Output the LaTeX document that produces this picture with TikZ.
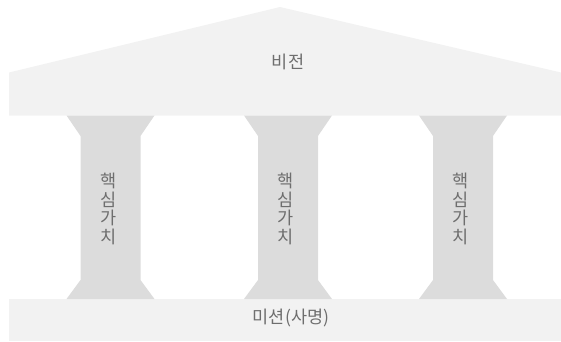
\documentclass[tikz,border=0pt]{standalone}
\usepackage{fontspec}
\setmainfont{Noto Sans CJK KR}
\definecolor{roofgray}{HTML}{F2F2F2}
\definecolor{pillargray}{HTML}{DCDCDC}
\definecolor{textgray}{HTML}{6E6E6E}
\begin{document}
\begin{tikzpicture}[x=1pt,y=-1pt,
  lbl/.style={text=textgray,font=\fontsize{17.5}{18.5}\selectfont,inner sep=0pt,align=center}]
\useasboundingbox (0,0) rectangle (561,341);
% roof
\fill[roofgray] (9,72.5) -- (280,7) -- (561,72.5) -- (561,115.5) -- (9,115.5) -- cycle;
% base
\fill[roofgray] (9,299) rectangle (561,341);
% pillars
\foreach \c/\n in {110.5/a,288/b,463/c}{
  \fill[pillargray] (\c-44,115.5) -- (\c+44,115.5) -- (\c+30,136) -- (\c+30,280)
     -- (\c+44,299) -- (\c-44,299) -- (\c-30,280) -- (\c-30,136) -- cycle;
  \node[lbl] (pillar\n) at (\c-2,209) {핵\\심\\가\\치};
}
\node[lbl] (vision) at (288,62) {비전};
\node[lbl] (mission) at (291,318) {미션(사명)};
\end{tikzpicture}
\end{document}
